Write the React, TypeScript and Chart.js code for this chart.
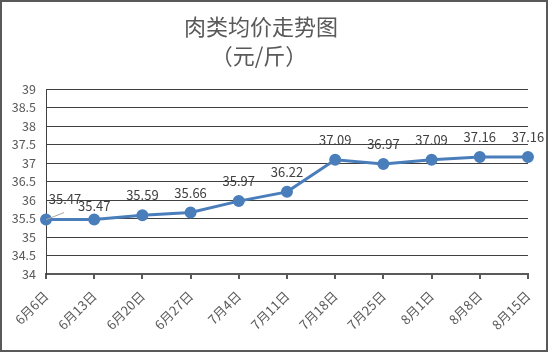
import React, { useEffect, useRef } from "react";
import { Chart, registerables } from "chart.js";

Chart.register(...registerables);

const titleLines = ["肉类均价走势图", "（元/斤）"];
const categories = ["6月6日", "6月13日", "6月20日", "6月27日", "7月4日", "7月11日", "7月18日", "7月25日", "8月1日", "8月8日", "8月15日"];
const prices = [35.47, 35.47, 35.59, 35.66, 35.97, 36.22, 37.09, 36.97, 37.09, 37.16, 37.16];
const yMin = 34;
const yMax = 39;
const yStep = 0.5;

const FONT = "'Noto Sans CJK SC', 'Noto Sans', sans-serif";
const LINE_COLOR = "#4A7EBB";
const TEXT_COLOR = "#595959";

const overlayPlugin = {
  id: "overlay",
  afterDatasetsDraw(chart: any) {
    const ctx = chart.ctx;
    ctx.save();
    // title
    ctx.fillStyle = TEXT_COLOR;
    ctx.textAlign = "center";
    ctx.textBaseline = "middle";
    ctx.font = `22px ${FONT}`;
    ctx.fillText(titleLines[0], 261, 27);
    ctx.fillText(titleLines[1], 259, 56);
    // data labels
    const meta = chart.getDatasetMeta(0);
    ctx.font = `13px ${FONT}`;
    ctx.fillStyle = "#404040";
    meta.data.forEach((pt: any, i: number) => {
      const v = prices[i];
      let x = pt.x;
      let y = pt.y - 20;
      if (i === 0) {
        x = pt.x + 19;
        y = pt.y - 21;
        ctx.strokeStyle = "#A6A6A6";
        ctx.lineWidth = 1;
        ctx.beginPath();
        ctx.moveTo(pt.x, pt.y);
        ctx.lineTo(pt.x + 18, pt.y - 7);
        ctx.stroke();
      } else if (i === 1) {
        y = pt.y - 14;
      }
      ctx.fillText(v.toFixed(2), x, y);
    });
    ctx.restore();
  },
};

export default function App() {
  const ref = useRef<HTMLCanvasElement | null>(null);
  useEffect(() => {
    if (!ref.current) return;
    const chart = new Chart(ref.current, {
      type: "line",
      data: {
        labels: categories,
        datasets: [
          {
            data: prices,
            borderColor: LINE_COLOR,
            backgroundColor: LINE_COLOR,
            borderWidth: 3,
            pointRadius: 4.5,
            pointBackgroundColor: LINE_COLOR,
            pointBorderColor: LINE_COLOR,
            tension: 0,
          },
        ],
      },
      options: {
        animation: false,
        responsive: false,
        maintainAspectRatio: false,
        layout: { padding: { left: 0, right: 19, top: 89, bottom: 0 } },
        plugins: { legend: { display: false }, tooltip: { enabled: false }, title: { display: false } },
        scales: {
          x: {
            offset: false,
            grid: {
              display: true,
              drawOnChartArea: false,
              drawTicks: true,
              tickLength: 5,
              color: TEXT_COLOR,
              lineWidth: 2,
            },
            border: { display: true, color: TEXT_COLOR, width: 2 },
            ticks: {
              color: TEXT_COLOR,
              font: { family: FONT, size: 13 },
              maxRotation: 45,
              minRotation: 45,
              autoSkip: false,
              padding: 9,
            },
            afterFit(scale: any) {
              scale.height = 78;
            },
          },
          y: {
            min: yMin,
            max: yMax,
            grid: { color: "#404040", lineWidth: 1, drawTicks: false },
            border: { display: true, color: "#404040", width: 1 },
            ticks: {
              stepSize: yStep,
              color: TEXT_COLOR,
              font: { family: FONT, size: 12.5 },
              padding: 10,
              callback: (v: any) => String(v),
            },
            afterFit(scale: any) {
              scale.width = 46;
            },
          },
        },
      },
      plugins: [overlayPlugin],
    });
    return () => chart.destroy();
  }, []);
  return (
    <div
      style={{
        position: "absolute",
        left: 0,
        top: 0,
        width: 548,
        height: 352,
        background: "#fff",
      }}
    >
      <canvas ref={ref} width={548} height={352} style={{ display: "block" }} />
      <div
        style={{
          position: "absolute",
          left: 0,
          top: 0,
          width: 548,
          height: 352,
          boxSizing: "border-box",
          border: "2px solid #595959",
          pointerEvents: "none",
        }}
      />
    </div>
  );
}
